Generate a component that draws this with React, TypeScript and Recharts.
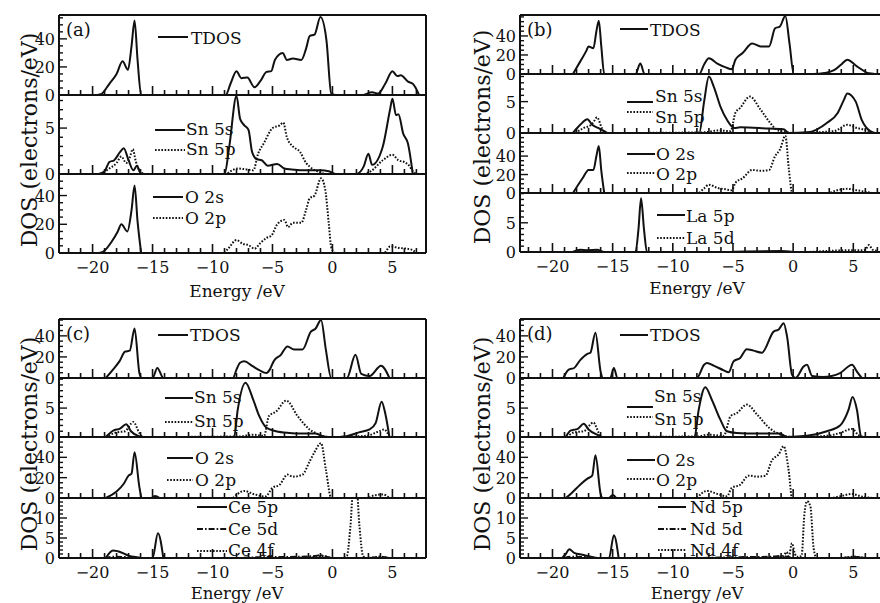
import React from 'react';
import { LineChart, Line, XAxis, YAxis, ReferenceLine } from 'recharts';

type P = [number, number];
const FONT = '"DejaVu Serif", serif';
const INK = '#111';

// ---------------- Energy axis ----------------
const X_TICKS = [-22, -21, -20, -19, -18, -17, -16, -15, -14, -13, -12, -11, -10, -9, -8, -7, -6, -5, -4, -3, -2, -1, 0, 1, 2, 3, 4, 5, 6, 7];
const X_LABELS = [-20, -15, -10, -5, 0, 5];

// ---------------- Panel (a) ----------------
const A_TDOS: P[] = [[-19.6,0],[-19.3,0.5],[-18.6,8],[-18.0,15],[-17.5,24],[-17.05,18],[-16.75,35],[-16.5,53],[-16.25,25],[-15.95,0],[-8.9,0],[-8.5,8],[-8.0,17],[-7.6,12],[-7.1,12.5],[-6.5,5.5],[-6.0,10],[-5.5,16.5],[-5.1,17],[-4.8,25],[-4.15,30],[-3.8,25],[-3.3,26],[-2.6,25],[-2.2,33],[-1.9,42],[-1.5,43],[-1.0,55.5],[-0.5,39],[-0.1,1],[0.3,0],[2.5,0],[3.3,2],[3.8,1],[4.4,8],[5.0,17],[5.4,13.5],[5.7,14],[6.3,9.5],[6.7,8],[7.2,0.5]];
const A_SN5S: P[] = [[-19.5,0],[-19.0,0.3],[-18.6,1.3],[-18.2,1.5],[-17.7,2.4],[-17.4,2.8],[-17.0,1.5],[-16.6,0.4],[-16.3,0.9],[-16.0,0.1],[-15.6,0],[-9.0,0],[-8.6,3],[-8.0,8.5],[-7.7,6],[-7.35,5.3],[-7.0,4.8],[-6.7,2.4],[-6.3,1.6],[-5.9,1.5],[-5.4,0.9],[-4.6,1.1],[-4.0,0.6],[-3.4,0.5],[-2.0,0.4],[-1.0,0.4],[-0.3,0.3],[0.3,0],[2.0,0],[2.6,0.8],[3.0,2.2],[3.3,1.0],[4.2,3],[4.8,7],[5.0,8.2],[5.3,6.4],[5.5,6.5],[5.9,4.4],[6.3,3.3],[6.7,0]];
const A_SN5P: P[] = [[-19.3,0],[-18.6,0.6],[-18.0,1.2],[-17.6,1.9],[-17.2,1.2],[-16.9,1.8],[-16.65,2.7],[-16.4,1.4],[-16.0,0.2],[-15.6,0],[-8.9,0],[-8.5,0.3],[-7.9,0.6],[-7.2,0.5],[-6.6,0.4],[-6.2,2.2],[-5.7,3.4],[-5.0,5.0],[-4.4,5.3],[-4.1,5.6],[-3.8,4.0],[-3.3,3.0],[-2.7,2.4],[-2.2,1.2],[-1.9,0.8],[-1.1,0.2],[-0.5,0],[2.5,0],[3.2,0.3],[4.2,1.5],[5.0,2.1],[5.5,1.5],[6.0,1.3],[6.4,0.9],[6.7,0.3],[7.0,0]];
const A_O2S: P[] = [[-19.5,0],[-19.1,1],[-18.4,8],[-17.9,15],[-17.6,20],[-17.1,15],[-16.75,30],[-16.5,47],[-16.25,22],[-15.95,0]];
const A_O2P: P[] = [[-9.0,0],[-8.6,4],[-8.0,9],[-7.5,6.5],[-7.0,5.5],[-6.5,3],[-6.0,7],[-5.5,10.5],[-5.1,12],[-4.6,20],[-4.0,23],[-3.7,18],[-3.3,21],[-2.6,21],[-2.2,30],[-1.9,38],[-1.5,40],[-0.95,52],[-0.6,44],[-0.3,20],[-0.1,4],[0.1,1],[0.3,0],[4.3,0],[4.8,4.5],[5.6,3.5],[6.2,3],[6.7,2],[7.0,0]];

// ---------------- Panel (b) ----------------
const B_TDOS: P[] = [[-18.3,0],[-17.7,13],[-17.2,24],[-17.0,29],[-16.6,27],[-16.35,45],[-16.15,56],[-15.95,30],[-15.7,0],[-13.1,0],[-12.7,11],[-12.35,0],[-7.8,0],[-7.4,10],[-7.0,16.5],[-6.3,11],[-5.6,7],[-5.1,5],[-4.8,15],[-4.2,22],[-3.4,32],[-2.7,29],[-2.0,29],[-1.5,48],[-1.1,50],[-0.65,61],[-0.3,32],[0.05,0],[1.7,0],[2.6,1],[3.4,4],[4.0,10],[4.5,15],[5.3,8],[6.3,0.7],[6.8,0]];
const B_SN5S: P[] = [[-18.3,0],[-17.7,1.3],[-17.1,2.2],[-16.7,1.3],[-16.2,0.8],[-15.7,0.3],[-15.4,0],[-7.8,0],[-7.4,5],[-7.0,9.0],[-6.6,7.4],[-6.0,4],[-5.5,2.1],[-4.9,0.8],[-4.4,0.9],[-2.0,0.7],[-0.8,0.6],[-0.35,0],[1.2,0.1],[2.8,1.6],[3.7,3.2],[4.2,5.2],[4.5,6.3],[5.2,5],[5.7,2.1],[6.4,0.3],[6.8,0]];
const B_SN5P: P[] = [[-18.1,0],[-17.4,0.8],[-16.8,1.3],[-16.5,2.0],[-16.3,2.5],[-15.9,0.8],[-15.6,0],[-7.4,0.1],[-6.3,0.4],[-5.2,0.3],[-4.8,3.2],[-4.4,4],[-3.6,5.8],[-2.7,3.7],[-1.9,1.6],[-1.35,0.5],[-0.5,0.1],[0,0],[3.4,0.3],[4.5,1.3],[5.3,0.8],[6.0,0.5],[6.7,0]];
const B_O2S: P[] = [[-18.3,0],[-17.5,16],[-17.0,25],[-16.6,25],[-16.35,40],[-16.15,51],[-15.95,25],[-15.7,0]];
const B_O2P: P[] = [[-7.8,0],[-7.4,5],[-7.0,9],[-6.3,5.5],[-5.6,4],[-5.1,3],[-4.8,11],[-4.2,16],[-3.4,25],[-2.7,24],[-2.0,25],[-1.5,40],[-1.1,47],[-0.65,62],[-0.35,25],[-0.07,0],[3.0,0],[3.4,2],[4.5,4.5],[5.3,3],[6.1,1],[6.6,0]];
const B_LA5P: P[] = [[-18.3,0],[-17.7,0.4],[-17.1,0.3],[-16.3,0.4],[-15.7,0],[-13.1,0],[-12.85,4],[-12.64,9.2],[-12.4,4],[-12.15,0],[-6,0],[-4,0.1],[-1,0.15],[0,0]];
const B_LA5D: P[] = [[-18.3,0],[-17.3,0.2],[-16.3,0.2],[-15.7,0],[1,0],[3,0.2],[5,0.3],[5.7,0.3],[6.0,0.4],[6.3,1.2],[6.6,0.4],[7.0,0.2]];

// ---------------- Panel (c) ----------------
const C_TDOS: P[] = [[-18.9,0],[-18.3,8],[-17.75,16],[-17.3,25],[-16.9,26],[-16.5,47],[-16.1,5],[-15.9,0],[-15.0,0],[-14.6,9.5],[-14.1,0],[-8.3,0],[-8.0,8],[-7.7,14.5],[-7.35,15.8],[-6.7,11.5],[-6.1,7.5],[-5.5,4.7],[-5.2,8.5],[-4.9,16],[-4.3,22],[-3.75,30],[-3.2,27],[-2.5,27],[-1.8,44],[-1.4,47],[-0.95,55],[-0.55,27],[-0.1,0],[1.2,0],[1.92,22],[2.4,4],[3.1,2],[4.05,11.7],[4.75,0]];
const C_SN5S: P[] = [[-18.9,0],[-18.2,1.2],[-17.75,1.4],[-17.2,2.2],[-16.8,1.0],[-16.2,0.2],[-15.8,0],[-8.2,0],[-7.9,4.7],[-7.25,9.4],[-6.6,6.4],[-6.1,3.6],[-5.5,1.6],[-4.7,1.0],[-3.6,0.7],[-2.5,0.6],[-1.4,0.6],[-0.75,0.1],[0,0],[1.1,0.1],[2.2,0.8],[3.1,1.3],[3.6,2.4],[4.1,6.1],[4.4,4.1],[4.75,0]];
const C_SN5P: P[] = [[-18.9,0],[-18.0,0.8],[-17.3,1],[-16.6,2.6],[-16.1,0.7],[-15.8,0],[-7.75,0.1],[-6.6,0.4],[-5.7,0.2],[-5.3,3.6],[-4.7,4.4],[-3.85,6.3],[-2.9,3.6],[-1.9,1.3],[-1.1,0.4],[-0.3,0],[2.8,0.2],[3.9,1],[4.3,1.3],[4.75,0]];
const C_O2S: P[] = [[-18.9,0],[-18.0,6.4],[-17.4,14],[-17.0,22],[-16.75,24],[-16.5,45],[-16.1,11],[-15.9,0],[-15.1,0],[-14.8,2],[-14.4,0]];
const C_O2P: P[] = [[-8.3,0],[-7.9,4],[-7.35,7],[-6.6,4],[-5.6,1.5],[-5.0,10],[-4.4,13],[-3.75,23],[-3.3,21],[-2.5,23],[-1.9,36],[-1.5,45],[-0.95,54],[-0.55,28],[-0.1,0],[3.0,0],[3.3,2],[4.2,3.5],[4.75,0]];
const C_CE5P: P[] = [[-18.9,0],[-18.3,1.9],[-17.9,1.7],[-17.0,0.6],[-16.3,0.2],[-15.8,0],[-15.0,0],[-14.55,6.2],[-14.1,0]];
const C_CE5D: P[] = [[-19,0],[-18.3,0.3],[-17,0.2],[-16,0],[-8,0],[-6,0.2],[-3,0.3],[-1.5,0.5],[-1.0,0.7],[-0.5,0.3],[0,0],[3,0],[4,0.3],[4.7,0]];
const C_CE4F: P[] = [[-3,0],[-1.5,0.3],[-0.8,0.5],[0,0],[0.8,0],[1.2,0.5],[1.5,8],[1.75,18],[2.0,18],[2.25,8],[2.55,0.5],[2.8,0],[4,0.3],[4.7,0]];

// ---------------- Panel (d) ----------------
const D_TDOS: P[] = [[-19.1,0],[-18.65,8],[-18.2,9.5],[-17.7,17],[-17.1,23],[-16.85,24],[-16.43,43],[-16.0,6],[-15.8,0],[-15.2,0],[-14.9,9.5],[-14.6,0],[-8.0,0],[-7.4,12.6],[-7.15,14.2],[-6.6,11.7],[-5.77,7.3],[-5.36,5.4],[-4.95,15.8],[-4.4,19],[-3.85,27.4],[-3.3,26],[-2.6,24],[-1.62,44],[-1.2,46],[-0.79,52],[-0.5,39],[-0.09,3],[0.2,0],[0.88,11],[1.15,12.6],[1.57,2],[2.5,1],[3.9,4.7],[4.9,12.6],[5.3,6],[5.7,0]];
const D_SN5S: P[] = [[-18.9,0],[-18.5,1.1],[-17.9,1.4],[-17.4,2.3],[-17.0,1.3],[-16.3,0.4],[-15.85,0],[-8.2,0],[-7.85,4.7],[-7.3,8.6],[-6.75,6.4],[-6.05,3],[-5.5,1],[-4.7,0.7],[-3.0,0.6],[-1.1,0.6],[-0.5,0],[1.15,0.2],[2.8,1],[3.9,2],[4.6,4.7],[4.94,6.9],[5.3,4.7],[5.65,0.1],[5.8,0]];
const D_SN5P: P[] = [[-18.8,0],[-18.2,0.8],[-17.4,1],[-16.6,2.5],[-16.15,0.7],[-15.9,0],[-7.9,0.1],[-7.1,0.4],[-5.77,0.2],[-5.2,3.6],[-4.7,4.1],[-3.85,5.6],[-3.0,3.9],[-2.0,1.6],[-1.35,0.7],[-0.5,0.1],[0,0],[2.8,0.2],[3.9,0.7],[4.9,1.4],[5.4,0.4],[5.8,0]];
const D_O2S: P[] = [[-18.9,0],[-18.4,5],[-17.7,13],[-17.1,19],[-16.7,22],[-16.43,42],[-16.0,4],[-15.85,0],[-15.3,0],[-15.0,3],[-14.7,0]];
const D_O2P: P[] = [[-8.0,0],[-7.15,7],[-6.3,4],[-5.5,1.7],[-5.1,10],[-4.4,13],[-3.7,22],[-3.0,21],[-2.3,22],[-1.76,37],[-1.2,43],[-0.79,51],[-0.37,27],[-0.09,0],[3.0,0],[3.9,1.7],[4.9,4],[5.6,1.7],[6.7,0]];
const D_ND5P: P[] = [[-19.2,0],[-18.9,1],[-18.6,2.2],[-18.2,1.3],[-17.5,0.8],[-16.8,0.3],[-16.3,0],[-15.3,0],[-14.9,5.7],[-14.5,0]];
const D_ND5D: P[] = [[-19,0],[-18.5,0.3],[-17,0.2],[-16,0],[-8,0],[-5,0.2],[-2,0.3],[-1,0.5],[-0.5,0.3],[0,0],[4,0],[5,0.3],[6,0]];
const D_ND4F: P[] = [[-3,0],[-1.5,0.2],[-0.8,0.5],[-0.55,1.5],[-0.35,0.5],[-0.1,3.7],[0.15,1],[0.35,0.3],[0.7,0.5],[0.93,10.8],[1.15,14.2],[1.43,13],[1.7,2.5],[1.95,0],[4,0],[5,0.3],[6,0]];

// ---------------- y tick sets ----------------
const Y_T55 = [0,5,10,15,20,25,30,35,40,45,50,55];
const Y_T60 = [0,5,10,15,20,25,30,35,40,45,50,55,60];
const Y_L40 = [0,20,40];
const Y_T8 = [0,1,2,3,4,5,6,7,8];
const Y_T9 = [0,1,2,3,4,5,6,7,8,9];
const Y_T10 = [0,1,2,3,4,5,6,7,8,9,10];
const Y_L5 = [0,5];
const Y_T14 = [0,1,2,3,4,5,6,7,8,9,10,11,12,13,14];
const Y_L10 = [0,5,10];

const DOT = '1.6 1.6';
const DASHDOT = '6 2 1.6 2';

type Series = { pts: P[]; dash?: string };
type Sub = { top: number; height: number; yMax: number; yTicks: number[]; yLabels: number[]; series: Series[]; bottom?: boolean };
type Panel = { left: number; width: number; xDomain: [number, number]; subs: Sub[] };

const PANELS: Panel[] = [
  { left: 59, width: 367, xDomain: [-22.8, 7.8], subs: [
    { top: 15, height: 80, yMax: 57, yTicks: Y_T55, yLabels: Y_L40, series: [{ pts: A_TDOS }] },
    { top: 95, height: 79, yMax: 8.6, yTicks: Y_T8, yLabels: Y_L5, series: [{ pts: A_SN5S }, { pts: A_SN5P, dash: DOT }] },
    { top: 174, height: 79, yMax: 55, yTicks: Y_T55, yLabels: Y_L40, series: [{ pts: A_O2S }, { pts: A_O2P, dash: DOT }], bottom: true },
  ]},
  { left: 520, width: 367, xDomain: [-22.7, 7.8], subs: [
    { top: 15, height: 59, yMax: 62, yTicks: Y_T60, yLabels: Y_L40, series: [{ pts: B_TDOS }] },
    { top: 74, height: 59, yMax: 9.4, yTicks: Y_T9, yLabels: Y_L5, series: [{ pts: B_SN5S }, { pts: B_SN5P, dash: DOT }] },
    { top: 133, height: 60, yMax: 65, yTicks: Y_T60, yLabels: Y_L40, series: [{ pts: B_O2S }, { pts: B_O2P, dash: DOT }] },
    { top: 193, height: 59, yMax: 10.1, yTicks: Y_T10, yLabels: Y_L5, series: [{ pts: B_LA5P }, { pts: B_LA5D, dash: DOT }], bottom: true },
  ]},
  { left: 59, width: 367, xDomain: [-22.8, 7.8], subs: [
    { top: 319, height: 59, yMax: 56, yTicks: Y_T55, yLabels: Y_L40, series: [{ pts: C_TDOS }] },
    { top: 378, height: 59, yMax: 10.2, yTicks: Y_T10, yLabels: Y_L5, series: [{ pts: C_SN5S }, { pts: C_SN5P, dash: DOT }] },
    { top: 437, height: 61, yMax: 60, yTicks: Y_T55, yLabels: Y_L40, series: [{ pts: C_O2S }, { pts: C_O2P, dash: DOT }] },
    { top: 498, height: 60, yMax: 15, yTicks: Y_T14, yLabels: Y_L10, series: [{ pts: C_CE5P }, { pts: C_CE5D, dash: DASHDOT }, { pts: C_CE4F, dash: DOT }], bottom: true },
  ]},
  { left: 520, width: 367, xDomain: [-22.7, 7.8], subs: [
    { top: 319, height: 59, yMax: 56, yTicks: Y_T55, yLabels: Y_L40, series: [{ pts: D_TDOS }] },
    { top: 378, height: 59, yMax: 10.2, yTicks: Y_T10, yLabels: Y_L5, series: [{ pts: D_SN5S }, { pts: D_SN5P, dash: DOT }] },
    { top: 437, height: 61, yMax: 60, yTicks: Y_T55, yLabels: Y_L40, series: [{ pts: D_O2S }, { pts: D_O2P, dash: DOT }] },
    { top: 498, height: 60, yMax: 15, yTicks: Y_T14, yLabels: Y_L10, series: [{ pts: D_ND5P }, { pts: D_ND5D, dash: DASHDOT }, { pts: D_ND4F, dash: DOT }], bottom: true },
  ]},
];

// legend layout: [x1, x2, lineY, textX, textCenterY, label, dash]
type Leg = [number, number, number, number, number, string, string | undefined];
const LEGENDS: Leg[] = [
  [158, 188, 37, 191, 38, 'TDOS', undefined],
  [155, 185, 130, 186, 129, 'Sn 5s', undefined],
  [155, 185, 150, 186, 149, 'Sn 5p', DOT],
  [153, 183, 197, 185, 197, 'O 2s', undefined],
  [153, 183, 218, 185, 218, 'O 2p', DOT],
  [620, 648, 29, 650, 30, 'TDOS', undefined],
  [627, 653, 102, 655, 96, 'Sn 5s', undefined],
  [627, 653, 112, 655, 117, 'Sn 5p', DOT],
  [627, 655, 154, 656, 153.5, 'O 2s', undefined],
  [627, 655, 173, 656, 174, 'O 2p', DOT],
  [657, 685, 215, 686, 216, 'La 5p', undefined],
  [657, 685, 238, 686, 238, 'La 5d', DOT],
  [158, 188, 335, 190, 335, 'TDOS', undefined],
  [165, 193, 398, 194, 397, 'Sn 5s', undefined],
  [165, 193, 422, 194, 421, 'Sn 5p', DOT],
  [167, 193, 458, 195, 458, 'O 2s', undefined],
  [167, 193, 480, 195, 480, 'O 2p', DOT],
  [197, 227, 507, 228, 507, 'Ce 5p', undefined],
  [197, 227, 529, 228, 529, 'Ce 5d', DASHDOT],
  [197, 227, 551, 228, 550, 'Ce 4f', DOT],
  [620, 648, 335, 650, 335, 'TDOS', undefined],
  [627, 653, 407, 654, 396, 'Sn 5s', undefined],
  [627, 653, 417, 654, 419, 'Sn 5p', DOT],
  [627, 655, 460, 656, 460, 'O 2s', undefined],
  [627, 655, 479, 656, 480, 'O 2p', DOT],
  [658, 686, 507, 690, 507, 'Nd 5p', undefined],
  [658, 686, 529, 690, 529, 'Nd 5d', DASHDOT],
  [658, 686, 550, 690, 550, 'Nd 4f', DOT],
];
const PANEL_TAGS: [number, number, string][] = [[66, 36, '(a)'], [527, 36, '(b)'], [66, 340, '(c)'], [527, 340, '(d)']];
// [centerX, baseline, fontSize]
const X_TITLES: [number, number, number][] = [[237, 297, 17], [697, 294, 17], [237, 599, 16.5], [697, 599, 16.5]];
const Y_TITLES: [number, number][] = [[28.5, 140], [481.5, 137], [28.5, 444], [481.5, 444]];

const fmt = (v: number) => (v < 0 ? '\u2212' + Math.abs(v) : String(v));
const toData = (pts: P[]) => pts.map(([e, v]) => ({ e, v }));

function XTick(props: any) {
  const { x, y, payload, showLabel } = props;
  const v = payload.value;
  const major = X_LABELS.includes(v);
  return (
    <g>
      <line x1={x} x2={x} y1={y} y2={y - (major ? 9 : 5)} stroke={INK} strokeWidth={1.6} />
      {showLabel && major ? (
        <text x={x} y={y + 20} textAnchor="middle" fontFamily={FONT} fontSize={16} fill={INK}>{fmt(v)}</text>
      ) : null}
    </g>
  );
}

function YTick(props: any) {
  const { x, y, payload, labels } = props;
  const v = payload.value;
  const major = labels.includes(v);
  return (
    <g>
      <line x1={x} x2={x + (major ? 8 : 4)} y1={y} y2={y} stroke={INK} strokeWidth={1.4} />
      {major ? (
        <text x={x - 4} y={y + 6} textAnchor="end" fontFamily={FONT} fontSize={16} fill={INK}>{fmt(v)}</text>
      ) : null}
    </g>
  );
}

function SubPlot({ panel, sub }: { panel: Panel; sub: Sub }) {
  const axisW = 60;
  const bandH = sub.bottom ? 50 : 10;
  const W = axisW + panel.width + 2;
  const H = sub.height + bandH + 2;
  return (
    <div style={{ position: 'absolute', left: panel.left - axisW, top: sub.top - 2, width: W, height: H }}>
      <LineChart width={W} height={H} margin={{ top: 2, right: 2, bottom: 0, left: 0 }}>
        <XAxis
          type="number" dataKey="e" domain={panel.xDomain} allowDataOverflow ticks={X_TICKS} interval={0}
          height={bandH} tickSize={0} tickMargin={0} tickLine={false}
          axisLine={{ stroke: INK, strokeWidth: 2 }}
          tick={(p: any) => <XTick {...p} showLabel={!!sub.bottom} />}
        />
        <YAxis
          type="number" domain={[0, sub.yMax]} allowDataOverflow ticks={sub.yTicks} interval={0}
          width={axisW} tickSize={0} tickMargin={0} tickLine={false}
          axisLine={{ stroke: INK, strokeWidth: 2 }}
          tick={(p: any) => <YTick {...p} labels={sub.yLabels} />}
        />
        <ReferenceLine y={sub.yMax} stroke={INK} strokeWidth={2} />
        <ReferenceLine x={panel.xDomain[1]} stroke={INK} strokeWidth={2} />
        {sub.series.map((s, i) => (
          <Line
            key={i} data={toData(s.pts)} dataKey="v" type="monotone" stroke={INK} strokeWidth={2}
            strokeDasharray={s.dash} dot={false} activeDot={false} isAnimationActive={false}
          />
        ))}
      </LineChart>
    </div>
  );
}

export default function App() {
  return (
    <div style={{ position: 'absolute', left: 0, top: 0, width: 880, height: 603, overflow: 'hidden', background: '#fff' }}>
      {PANELS.map((panel, pi) => panel.subs.map((sub, si) => <SubPlot key={pi + '-' + si} panel={panel} sub={sub} />))}
      <svg width={880} height={603} style={{ position: 'absolute', left: 0, top: 0, pointerEvents: 'none' }}>
        {LEGENDS.map(([x1, x2, ly, tx, ty, label, dash], i) => (
          <g key={i}>
            <line x1={x1} x2={x2} y1={ly} y2={ly} stroke={INK} strokeWidth={2} strokeDasharray={dash} />
            <text x={tx} y={ty + 6} fontFamily={FONT} fontSize={17} fill={INK}>{label}</text>
          </g>
        ))}
        {PANEL_TAGS.map(([x, y, t], i) => (
          <text key={i} x={x} y={y} fontFamily={FONT} fontSize={18} fill={INK}>{t}</text>
        ))}
        {X_TITLES.map(([x, y, fs], i) => (
          <text key={i} x={x} y={y} textAnchor="middle" fontFamily={FONT} fontSize={fs} fill={INK}>Energy /eV</text>
        ))}
        {Y_TITLES.map(([x, y], i) => (
          <text key={i} transform={`translate(${x},${y}) rotate(-90)`} y={8} textAnchor="middle" fontFamily={FONT} fontSize={22} fill={INK}>DOS (electrons/eV)</text>
        ))}
      </svg>
    </div>
  );
}
